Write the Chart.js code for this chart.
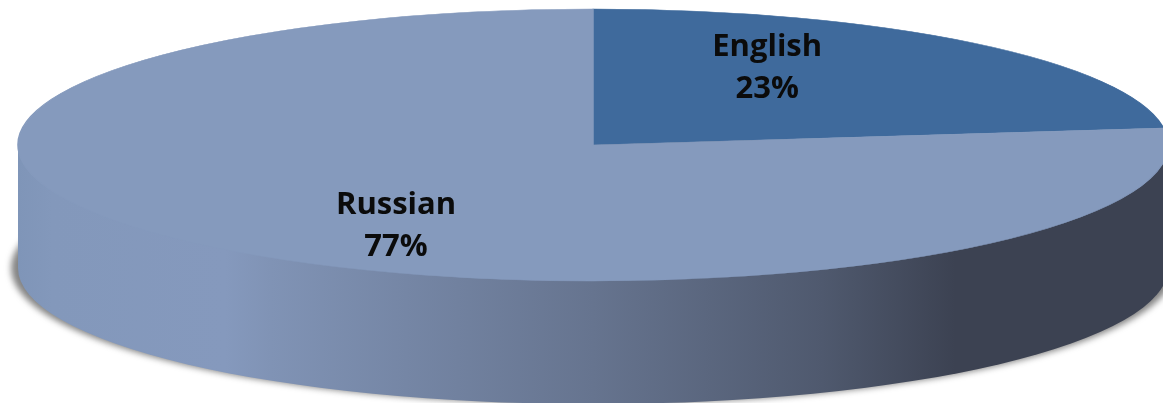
<!DOCTYPE html>
<html>
<head>
<meta charset="utf-8">
<style>
  html, body { margin: 0; padding: 0; background: #fff; overflow: hidden; }
  canvas { display: block; }
</style>
<script src="https://cdn.jsdelivr.net/npm/chart.js@4"></script>
</head>
<body>
<canvas id="pie" width="1163" height="403"></canvas>
<script>
const languages = ['English', 'Russian'];
const shares = [23, 77];
const sliceColors = ['#3F6A9C', '#859ABD'];

// Disc proportions: vertical squash of the top face and thickness of the wall.
const TILT = 136 / 575;
const DEPTH = 123;

// Horizontal shading along the rim, as [x offset fraction, colour].
const wallStops = [
  [0.000, '#7F95B8'],
  [0.030, '#8398BB'],
  [0.180, '#8599BD'],
  [0.220, '#8093B5'],
  [0.500, '#66748F'],
  [0.700, '#4F596E'],
  [0.815, '#3C4252'],
  [1.000, '#3C4252']
];

// Where each label sits, as fractions of the radius along the slice's mid-angle.
const labelReach = [{ x: 0.458, y: 0.75 }, { x: 0.518, y: 0.80 }];

const disc3d = {
  id: 'disc3d',
  beforeDatasetsDraw(chart) {
    const { ctx } = chart;
    const { x, y, outerRadius: r } = chart.getDatasetMeta(0).data[0];
    const ry = r * TILT;

    // Soft contact shadow under the disc.
    ctx.save();
    ctx.filter = 'blur(3px)';
    ctx.fillStyle = 'rgba(85,85,85,0.72)';
    ctx.beginPath();
    ctx.ellipse(x, y + DEPTH, r + 7, ry, 0, 0, Math.PI * 2);
    ctx.fill();
    ctx.restore();

    // Rim of the disc.
    const grad = ctx.createLinearGradient(x - r, 0, x + r, 0);
    wallStops.forEach(([at, color]) => grad.addColorStop(at, color));
    ctx.fillStyle = grad;
    ctx.beginPath();
    ctx.ellipse(x, y + DEPTH, r, ry, 0, 0, Math.PI);
    ctx.lineTo(x - r, y);
    ctx.lineTo(x + r, y);
    ctx.closePath();
    ctx.fill();

    // Squash the arcs that the pie controller is about to draw.
    ctx.save();
    ctx.translate(x, y);
    ctx.scale(1, TILT);
    ctx.translate(-x, -y);
  },
  afterDatasetsDraw(chart) {
    const { ctx } = chart;
    ctx.restore();

    const total = shares.reduce((a, b) => a + b, 0);
    ctx.save();
    ctx.font = 'bold 31px "Open Sans", Lato, sans-serif';
    ctx.fillStyle = '#0b0b0b';
    ctx.textAlign = 'center';
    ctx.textBaseline = 'middle';
    chart.getDatasetMeta(0).data.forEach((arc, i) => {
      const mid = (arc.startAngle + arc.endAngle) / 2;
      const reach = labelReach[i];
      const cx = arc.x + arc.outerRadius * reach.x * Math.cos(mid);
      const cy = arc.y + arc.outerRadius * TILT * reach.y * Math.sin(mid);
      ctx.fillText(languages[i], cx, cy - 21);
      ctx.fillText(Math.round(shares[i] / total * 100) + '%', cx, cy + 21);
    });
    ctx.restore();
  }
};

new Chart(document.getElementById('pie'), {
  type: 'pie',
  data: {
    labels: languages,
    datasets: [{
      data: shares,
      backgroundColor: sliceColors,
      borderColor: sliceColors,
      borderWidth: 1.5,
      radius: 575,
      clip: false
    }]
  },
  options: {
    responsive: false,
    animation: false,
    layout: { padding: { left: 23, right: 0, top: 0, bottom: 113 } },
    plugins: { legend: { display: false }, tooltip: { enabled: false } }
  },
  plugins: [disc3d]
});
</script>
</body>
</html>
